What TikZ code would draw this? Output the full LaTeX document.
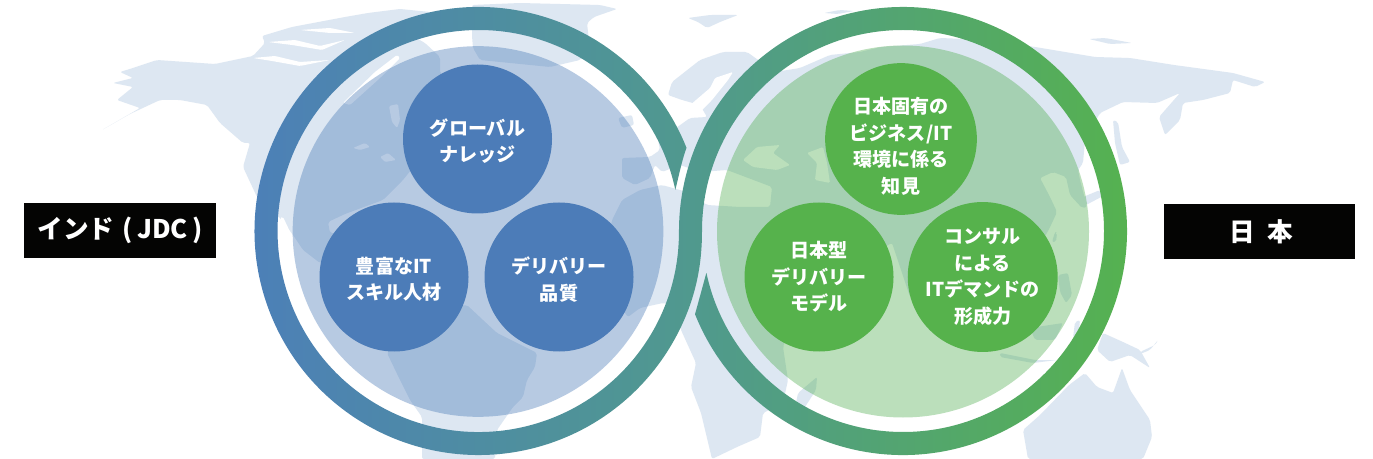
\documentclass[tikz,border=0pt]{standalone}
\usepackage{fontspec}
\newfontfamily\jpfont{Noto Sans CJK JP}
\newcommand{\dropline}[1]{\rule{0pt}{#1}}
\definecolor{landc}{HTML}{DDE7F2}
\definecolor{bluedisc}{HTML}{4C7CB8}
\definecolor{greendisc}{HTML}{56B24C}
\definecolor{blueveil}{RGB}{68,118,181}
\definecolor{greenveil}{RGB}{61,166,61}
\definecolor{ribA}{HTML}{4C7EBA}
\definecolor{ribB}{HTML}{50998E}
\definecolor{ribC}{HTML}{56B34C}
\definecolor{boxblack}{HTML}{040403}
\pgfdeclarehorizontalshading{ribbonshade}{100bp}{color(0bp)=(ribA);color(25bp)=(ribA);color(50bp)=(ribB);color(75bp)=(ribC);color(100bp)=(ribC)}
\tikzset{
  land/.style={fill=landc,draw=none,rounded corners=1.5pt},
  sea/.style={fill=white,draw=none,rounded corners=1pt},
  disc/.style={circle,minimum size=111.75pt,inner sep=0pt,align=center,text=white,
    font=\jpfont\bfseries\fontsize{14.3}{20}\selectfont},
  bluedot/.style={disc,fill=bluedisc},
  greendot/.style={disc,fill=greendisc},
  tag/.style={fill=boxblack,text=white,minimum width=143.5pt,minimum height=41pt,inner sep=0pt,
    font=\jpfont\bfseries\fontsize{19.2}{22}\selectfont}
}
\begin{document}
\begin{tikzpicture}[x=0.75pt,y=-0.75pt]
\path[use as bounding box,fill=white] (0,0) rectangle (1373,459);
% ---------- world map
% North America with the Arctic islands
\path[land] (102,130)--(130,114)--(160,100)--(180,100)--(207,105)--(220,123)--(243,143)--(250,143)--(243,167)--(257,197)--(280,218)--(293,235)--(303,250)--(320,263)--(338,262)--(342,234)--(330,233)--(328,222)--(345,214)--(383,200)--(403,180)--(415,165)--(450,150)--(470,110)--(455,85)--(440,73)--(440,57)--(425,43)--(407,33)--(430,12)--(400,9)--(368,13)--(345,17)--(292,27)--(262,36)--(265,43)--(253,56)--(215,64)--(157,60)--(133,68)--(120,72)--(133,78)--(113,83)--(133,87)--(117,100)--(140,108)--cycle;
% Greenland
\path[land] (472,36)--(473,48)--(480,60)--(550,67)--(580,60)--(590,50)--(587,23)--(594,17)--(617,9)--(600,5)--(520,3)--(472,5)--cycle;
% South America
\path[land] (467,305)--(483,320)--(497,333)--(537,353)--(535,367)--(527,380)--(523,397)--(513,407)--(497,430)--(495,459)--(422,459)--(422,417)--(410,400)--(400,380)--(387,353)--(400,330)--(430,310)--cycle;
% Eurasia and Africa
\path[land] (612,220)--(622,200)--(640,190)--(662,185)--(687,192)--(707,205)--(740,207)--(770,207)--(772,187)--(727,170)--(700,172)--(680,165)--(662,172)--(655,165)--(650,178)--(635,185)--(622,178)--(622,158)--(650,157)--(660,150)--(657,135)--(668,125)--(676,128)--(690,118)--(707,117)--(700,105)--(682,100)--(668,95)--(672,82)--(700,60)--(723,52)--(747,52)--(775,72)--(800,68)--(830,55)--(860,52)--(881,47)--(920,44)--(940,38)--(990,40)--(1035,47)--(1095,57)--(1130,58)--(1174,65)--(1233,73)--(1265,82)--(1255,87)--(1233,80)--(1230,93)--(1203,100)--(1183,103)--(1180,120)--(1165,135)--(1159,117)--(1180,93)--(1157,103)--(1123,102)--(1100,113)--(1085,140)--(1083,163)--(1078,170)--(1080,180)--(1087,207)--(1082,208)--(1070,195)--(1066,177)--(1053,172)--(1040,178)--(1050,197)--(1057,212)--(1052,223)--(1047,233)--(1030,260)--(1000,300)--(960,290)--(910,297)--(892,243)--(860,260)--(800,300)--(783,347)--(788,380)--(783,403)--(763,413)--(760,437)--(737,447)--(712,459)--(701,413)--(691,387)--(696,363)--(681,330)--(673,305)--(663,303)--(640,308)--(628,317)--(600,280)--cycle;
% Islands
\path[land] (618,118)--(632,115)--(634,125)--(622,128)--cycle;
\path[land] (1083,197)--(1100,190)--(1103,196)--(1086,205)--cycle;
\path[land] (1113,120)--(1118,122)--(1122,147)--(1130,162)--(1120,165)--(1115,143)--cycle;
\path[land] (1052,242)--(1055,232)--(1057,233)--(1056,242)--cycle;
\path[land] (1058,275)--(1068,273)--(1072,295)--(1066,303)--(1060,292)--cycle;
\path[land] (1030,328)--(1063,323)--(1055,340)--(1035,340)--cycle;
\path[land] (1075,322)--(1080,320)--(1078,340)--(1073,338)--cycle;
\path[land] (1000,353)--(1035,360)--(1057,360)--(1033,363)--(1000,357)--cycle;
\path[land] (1097,350)--(1103,333)--(1123,342)--(1140,350)--(1150,368)--(1130,355)--(1110,362)--cycle;
\path[land] (1140,352)--(1155,345)--(1158,340)--(1150,350)--(1140,354)--cycle;
\path[land] (817,377)--(816,390)--(803,410)--(796,403)--(798,393)--cycle;
\path[land] (1028,459)--(1023,430)--(1040,415)--(1069,385)--(1085,373)--(1097,387)--(1113,393)--(1122,368)--(1130,390)--(1150,420)--(1152,437)--(1143,459)--cycle;
\path[land] (688,18)--(710,15)--(738,15)--(720,22)--(707,28)--(698,22)--cycle;
\path[land] (1089,39)--(1105,38)--(1132,43)--(1110,44)--cycle;
\path[land] (824,13)--(840,10)--(854,11)--(838,14)--cycle;
% Inland seas and channels
\path[sea] (743,160)--(757,147)--(780,145)--(773,153)--(790,165)--(777,170)--(753,167)--cycle;
\path[sea] (807,153)--(823,147)--(827,163)--(830,183)--(815,180)--(817,163)--cycle;
\path[sea] (695,117)--(712,100)--(720,90)--(728,80)--(733,72)--(715,78)--(710,88)--(682,112)--cycle;
\path[sea] (343,103)--(375,72)--(397,55)--(400,58)--(380,78)--(350,105)--cycle;
\path[sea] (280,218)--(290,238)--(293,238)--(283,217)--cycle;
\path[sea] (389,106)--(398,104)--(400,120)--(397,128)--(392,122)--cycle;
\path[sea] (353,148)--(365,143)--(370,147)--(360,150)--cycle;
\path[sea] (380,157)--(388,153)--(396,160)--(385,162)--cycle;
% Arctic channels
\path[sea] (253,58)--(275,56)--(300,62)--(330,60)--(300,66)--(272,61)--cycle;
\path[sea] (268,42)--(295,40)--(320,46)--(345,40)--(322,50)--(292,45)--cycle;
\path[sea] (300,30)--(330,28)--(355,33)--(330,33)--cycle;
\path[sea] (1093,118)--(1100,130)--(1098,150)--(1095,132)--cycle;
% ---------- veils
\fill[blueveil,opacity=0.38] (478,231.5) circle[radius=139pt];
\fill[greenveil,opacity=0.35] (903,231.5) circle[radius=139.5pt];
% ---------- interlaced ribbon
\path[shading=ribbonshade]
  (686.5,147.8) arc[start angle=21.8,end angle=333.8,radius=168pt]
  .. controls (697.3,294) and (702,261) .. (702,231)
  arc[start angle=180,end angle=-168,radius=150.75pt]
  .. controls (703,285) and (699,300) .. (695,314.2)
  arc[start angle=201.8,end angle=540,radius=168pt]
  .. controls (679,261) and (673,295) .. (653.5,330)
  arc[start angle=-29.5,end angle=-348.2,radius=150.75pt]
  .. controls (679,175) and (682,160) .. (686.5,147.8) -- cycle;
% ---------- discs
\node[bluedot] (knowledge) at (477.5,139) {\dropline{15.5pt}グローバル\\ナレッジ};
\node[bluedot] (skills) at (394,277) {\dropline{15.5pt}豊富なIT\\スキル人材};
\node[bluedot] (quality) at (559,277) {\dropline{16.5pt}デリバリー\\品質};
\node[greendot] (bizenv) at (901,139) {\dropline{23pt}日本固有の\\ビジネス/IT\\環境に係る\\知見};
\node[greendot] (model) at (819,277) {日本型\\デリバリー\\モデル};
\node[greendot] (consult) at (982.7,277) {コンサル\\による\\ITデマンドの\\形成力};
% ---------- labels
\node[tag] (india) at (120,230.5) {インド\,\,(\,JDC\,)};
\node[tag] (japan) at (1259.5,231.5) {\hspace{3pt}日\,\,\,本};
\end{tikzpicture}
\end{document}
